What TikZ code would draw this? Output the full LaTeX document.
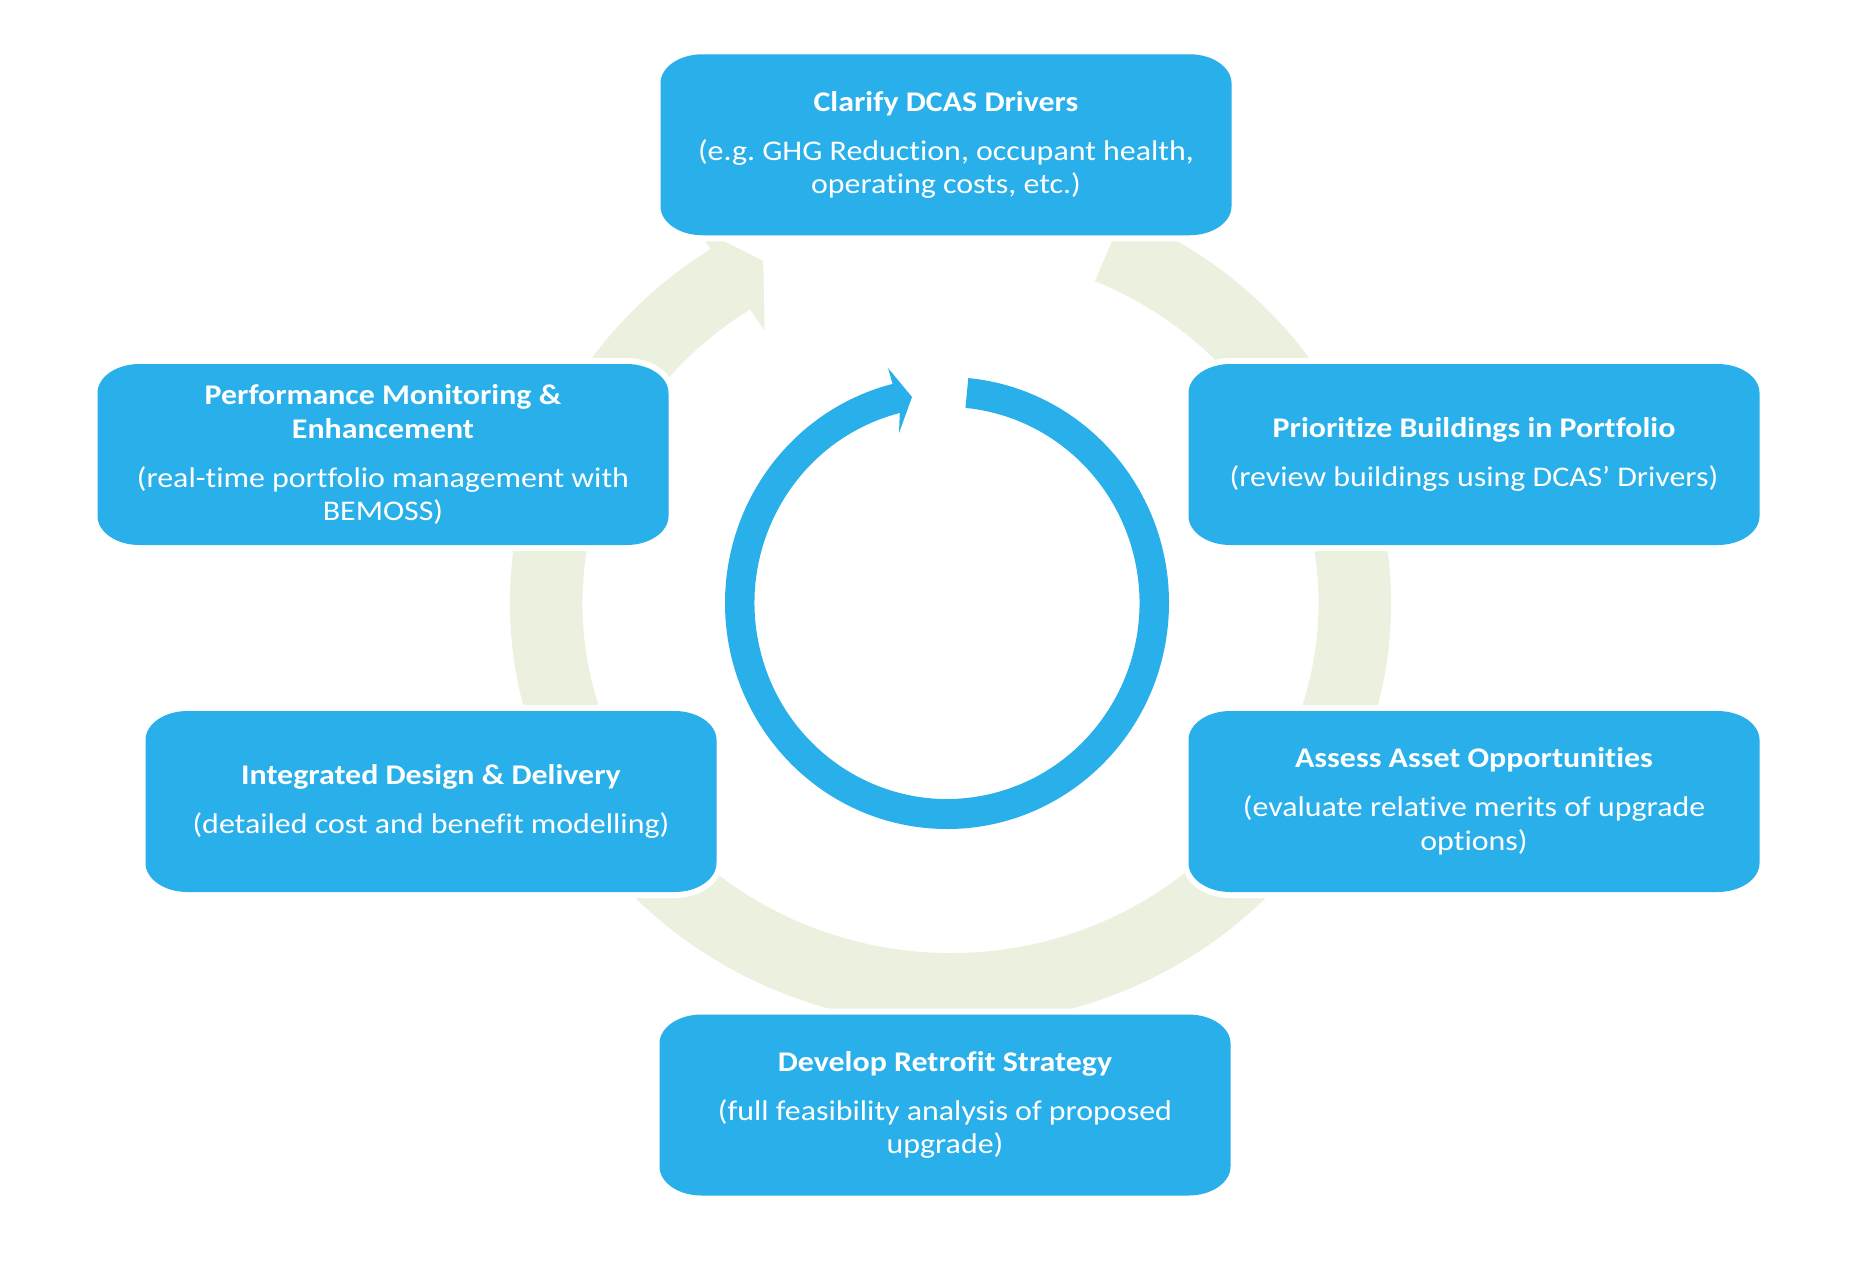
\documentclass[tikz,border=0pt]{standalone}
\usepackage{fontspec}
\setmainfont{Carlito}[FakeStretch=1.12, Ligatures=NoCommon]
\usetikzlibrary{calc}
\definecolor{boxblue}{RGB}{41,175,234}
\definecolor{ringgreen}{RGB}{235,241,222}
\pgfdeclarelayer{ringlayer}
\pgfdeclarelayer{boxlayer}
\pgfsetlayers{ringlayer,boxlayer,main}
\tikzset{
  stepnode/.style={text=white, align=center, font=\fontsize{28.5pt}{33.5pt}\selectfont\frenchspacing,
    minimum width=571pt, minimum height=181pt, inner sep=0pt, outer sep=0pt},
  boxshape/.style={preaction={draw=white, line width=12pt}, fill=boxblue},
}
\newcommand\ebox[1]{%
  \path[boxshape] ([xshift=42pt]#1.north west) -- ([xshift=-42pt]#1.north east)
    arc[start angle=90,end angle=0,x radius=42,y radius=29]
    -- ([yshift=29pt]#1.south east)
    arc[start angle=0,end angle=-90,x radius=42,y radius=29]
    -- ([xshift=42pt]#1.south west)
    arc[start angle=270,end angle=180,x radius=42,y radius=29]
    -- ([yshift=-29pt]#1.north west)
    arc[start angle=180,end angle=90,x radius=42,y radius=29] -- cycle;}
\begin{document}
\frenchspacing
\begin{tikzpicture}[x=1pt,y=1pt]
\useasboundingbox (0,0) rectangle (1870,-1262);
\node[stepnode] (clarify) at (946,-144.75)
  {\textbf{Clarify DCAS Drivers}\\[15.5pt](e.g. GHG Reduction, occupant health,\\operating costs, etc.)};
\node[stepnode] (prioritize) at (1474,-454.5)
  {\textbf{Prioritize Buildings in Portfolio}\\[15.5pt](review buildings using DCAS’ Drivers)};
\node[stepnode] (assess) at (1474,-801.5)
  {\textbf{Assess Asset Opportunities}\\[15.5pt](evaluate relative merits of upgrade\\options)};
\node[stepnode] (develop) at (945,-1105)
  {\textbf{Develop Retrofit Strategy}\\[15.5pt](full feasibility analysis of proposed\\upgrade)};
\node[stepnode] (integrated) at (431,-801.5)
  {\textbf{Integrated Design \& Delivery}\\[15.5pt](detailed cost and benefit modelling)};
\node[stepnode] (performance) at (383,-454.5)
  {\textbf{Performance Monitoring \&}\\\textbf{Enhancement}\\[15.5pt](real-time portfolio management with\\BEMOSS)};
\begin{pgfonlayer}{boxlayer}
  \ebox{clarify}\ebox{prioritize}\ebox{assess}\ebox{develop}\ebox{integrated}\ebox{performance}
\end{pgfonlayer}
\begin{pgfonlayer}{ringlayer}
  \coordinate (G) at (950.5,-603);
  \fill[ringgreen] ($(G)+(66.9:440.5 and 422)$)
    arc[start angle=66.9,end angle=-237,x radius=440.5,y radius=422]
    -- ($(G)+(123:466.5 and 448)$) -- ($(G)+(117.6:404 and 386)$)
    -- ($(G)+(123:341.5 and 324.8)$) -- ($(G)+(123:368 and 350)$)
    arc[start angle=-237,end angle=66.9,x radius=368,y radius=350] -- cycle;
  \coordinate (B) at (947,-603);
  \fill[boxblue] ($(B)+(84.5:222 and 226)$)
    arc[start angle=84.5,end angle=-255.8,x radius=222,y radius=226]
    -- ($(B)+(-59,235)$) -- ($(B)+(-35,206)$) -- ($(B)+(-48,170)$)
    -- ($(B)+(-255.8:192.5 and 196)$)
    arc[start angle=-255.8,end angle=84.5,x radius=192.5,y radius=196] -- cycle;
\end{pgfonlayer}
\end{tikzpicture}
\end{document}
